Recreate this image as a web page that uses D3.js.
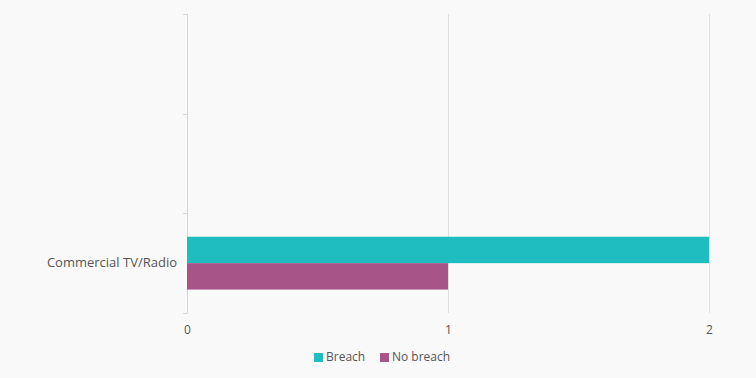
<!DOCTYPE html>
<html>
<head>
<meta charset="utf-8">
<script src="https://cdn.jsdelivr.net/npm/d3@7"></script>
<style>
  body { margin: 0; background: #f9f9f9; }
  svg { display: block; font-family: "Open Sans", "Noto Sans", sans-serif; }
  .tick text { fill: #555; font-size: 12px; font-family: "Open Sans", "Noto Sans", sans-serif; }
  .y-axis .tick text { font-size: 13px; }
</style>
</head>
<body>
<svg width="756" height="378"></svg>
<script>
const categories = ["", " ", "Commercial TV/Radio"];
const seriesNames = ["Breach", "No breach"];
const breach = [0, 0, 2];
const noBreach = [0, 0, 1];
const xTicks = [0, 1, 2];
const colors = ["#1fbdbf", "#a75488"];

const svg = d3.select("svg");
const width = +svg.attr("width");
const height = +svg.attr("height");

const margin = { top: 14, right: 47, bottom: 65, left: 187 };
const innerWidth = width - margin.left - margin.right;
const innerHeight = height - margin.top - margin.bottom;

const data = categories.map((c, i) => ({ cat: c, values: [breach[i], noBreach[i]] }));

const yScale = d3.scaleBand()
  .domain(categories)
  .range([0, innerHeight]);

const subScale = d3.scaleBand()
  .domain(seriesNames)
  .range([yScale.bandwidth() * 0.235, yScale.bandwidth() * 0.765]);

const xScale = d3.scaleLinear()
  .domain([0, 2])
  .range([0, innerWidth]);

const g = svg.append("g")
  .attr("transform", `translate(${margin.left},${margin.top})`);

// vertical grid
g.append("g")
  .selectAll("line")
  .data(xTicks.slice(1))
  .enter().append("line")
  .attr("x1", d => xScale(d) + 0.5)
  .attr("x2", d => xScale(d) + 0.5)
  .attr("y1", 0)
  .attr("y2", innerHeight)
  .attr("stroke", "#dedede");

const xAxisG = g.append("g")
  .attr("transform", `translate(0,${innerHeight})`)
  .call(d3.axisBottom(xScale).tickValues(xTicks).tickFormat(d3.format("d")).tickSize(0).tickPadding(12));
xAxisG.select(".domain").remove();

const yAxisG = g.append("g")
  .attr("class", "y-axis")
  .call(d3.axisLeft(yScale).tickSize(0).tickPadding(10));
yAxisG.select(".domain").remove();
yAxisG.selectAll(".tick").filter(d => d.trim() === "").remove();

// band boundary ticks
const bounds = categories.map(c => yScale(c)).concat([innerHeight]);
g.append("g")
  .selectAll("line")
  .data(bounds)
  .enter().append("line")
  .attr("x1", -4)
  .attr("x2", 0.5)
  .attr("y1", d => Math.round(d) + 0.5)
  .attr("y2", d => Math.round(d) + 0.5)
  .attr("stroke", "#d6d6d6");
g.append("line")
  .attr("x1", 0.5).attr("x2", 0.5)
  .attr("y1", 0).attr("y2", innerHeight)
  .attr("stroke", "#d6d6d6");

const groups = g.selectAll(".cat")
  .data(data)
  .enter().append("g")
  .attr("transform", d => `translate(0,${yScale(d.cat)})`);

groups.selectAll("rect")
  .data(d => d.values.map((v, i) => ({ v, name: seriesNames[i], i })))
  .enter().append("rect")
  .attr("x", 0)
  .attr("y", d => subScale(d.name))
  .attr("width", d => xScale(d.v))
  .attr("height", subScale.bandwidth())
  .attr("fill", d => colors[d.i]);

// legend
const legend = svg.append("g").attr("transform", "translate(314,357)");
const items = legend.selectAll("g")
  .data(seriesNames)
  .enter().append("g")
  .attr("transform", (d, i) => `translate(${i === 0 ? 0 : 66},0)`);
items.append("rect")
  .attr("x", 0).attr("y", -4)
  .attr("width", 9).attr("height", 9)
  .attr("fill", (d, i) => colors[i]);
items.append("text")
  .attr("x", 12)
  .attr("y", 0)
  .attr("dy", "0.35em")
  .attr("fill", "#555")
  .style("font-size", "12px")
  .text(d => d);
</script>
</body>
</html>
